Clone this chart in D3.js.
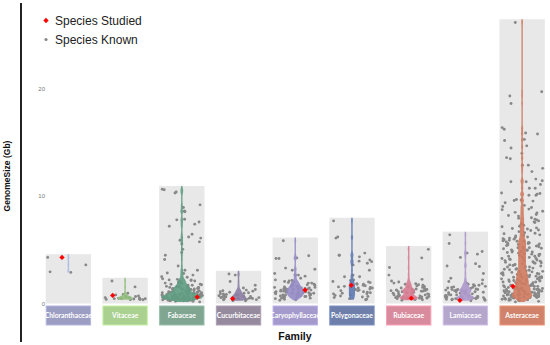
<!DOCTYPE html>
<html>
<head>
<meta charset="utf-8">
<script src="https://cdn.jsdelivr.net/npm/d3@7"></script>
<style>
body { margin: 0; background: #fff; }
text { font-family: "Liberation Sans", Arial, sans-serif; }
</style>
</head>
<body>
<div id="chart"></div>
<script>
// families along the x axis
var families = ["Chloranthaceae", "Vitaceae", "Fabaceae", "Cucurbitaceae", "Caryophyllaceae",
    "Polygonaceae", "Rubiaceae", "Lamiaceae", "Asteraceae"];

// genome size (Gb) of the species studied, one per family
var studied = [4.3, 0.75, 0.6, 0.45, 1.25, 1.7, 0.5, 0.3, 1.6];

// genome sizes (Gb) of known species, per family
var chloranthaceae = [4.3, 3.6, 2.95, 2.9];
var vitaceae = [2.1, 1.55, 0.95, 0.85, 0.8, 0.7, 0.65, 0.62, 0.6, 0.58, 0.55, 0.55, 0.52, 0.5, 0.5,
    0.48, 0.46, 0.45, 0.44, 0.42, 0.4, 0.4, 0.38, 0.36, 0.35];
var fabaceae = [10.65, 10.6, 10.4, 10.3, 9.2, 8.95, 8.6, 8.6, 8.55, 7.85, 7.8, 7.6, 7.4, 7.2, 6.45,
    6.2, 6.1, 5.9, 5.75, 5.55, 5.05, 4.75, 4.5, 4.1, 3.5, 3.1, 3.1, 2.85, 2.8, 2.65, 2.5, 2.45,
    2.3, 2.25, 2.2, 2.2, 2.15, 2.1, 2.05, 2.0, 2.0, 1.95, 1.9, 1.9, 1.85, 1.8, 1.8, 1.75, 1.7, 1.7,
    1.65, 1.6, 1.6, 1.6, 1.55, 1.55, 1.5, 1.5, 1.5, 1.45, 1.45, 1.4, 1.4, 1.4, 1.35, 1.35, 1.3, 1.3,
    1.3, 1.25, 1.25, 1.2, 1.2, 1.2, 1.15, 1.15, 1.1, 1.1, 1.1, 1.05, 1.05, 1.0, 1.0, 1.0, 1.0, 0.95,
    0.95, 0.95, 0.9, 0.9, 0.9, 0.9, 0.85, 0.85, 0.85, 0.85, 0.8, 0.8, 0.8, 0.8, 0.8, 0.75, 0.75,
    0.75, 0.75, 0.7, 0.7, 0.7, 0.7, 0.7, 0.65, 0.65, 0.65, 0.65, 0.65, 0.6, 0.6, 0.6, 0.6, 0.6, 0.6,
    0.55, 0.55, 0.55, 0.55, 0.55, 0.5, 0.5, 0.5, 0.5, 0.5, 0.5, 0.45, 0.45, 0.45, 0.45, 0.45, 0.4,
    0.4, 0.4, 0.4, 0.4, 0.35, 0.35, 0.35, 0.35, 0.3, 0.3, 0.3, 0.3, 0.25, 0.25, 0.25, 0.2, 0.2, 0.15];
var cucurbitaceae = [2.75, 2.65, 2.05, 1.7, 1.45, 1.3, 1.25, 1.2, 1.15, 1.1, 1.05, 1.0, 0.95, 0.9,
    0.9, 0.85, 0.8, 0.8, 0.75, 0.72, 0.7, 0.68, 0.65, 0.62, 0.6, 0.58, 0.55, 0.55, 0.52, 0.5, 0.48,
    0.46, 0.45, 0.42, 0.4, 0.38, 0.36, 0.35, 0.32, 0.3, 0.28, 0.25];
var caryophyllaceae = [5.85, 4.45, 4.25, 4.2, 4.2, 3.3, 3.2, 3.1, 2.8, 2.65, 2.65, 2.55, 2.35, 2.2,
    2.15, 2.1, 2.05, 2.0, 1.95, 1.9, 1.9, 1.85, 1.8, 1.8, 1.75, 1.7, 1.7, 1.65, 1.6, 1.6, 1.55, 1.55,
    1.5, 1.5, 1.45, 1.45, 1.4, 1.4, 1.4, 1.35, 1.35, 1.3, 1.3, 1.3, 1.25, 1.25, 1.2, 1.2, 1.2, 1.15,
    1.15, 1.1, 1.1, 1.1, 1.05, 1.05, 1.0, 1.0, 1.0, 0.95, 0.95, 0.9, 0.9, 0.9, 0.85, 0.85, 0.8, 0.8,
    0.8, 0.75, 0.75, 0.7, 0.7, 0.65, 0.65, 0.6, 0.6, 0.55, 0.55, 0.5, 0.5, 0.45, 0.4, 0.35, 0.3];
var polygonaceae = [7.7, 6.2, 6.1, 4.7, 4.5, 4.5, 4.35, 4.05, 3.95, 3.9, 3.75, 3.6, 3.1, 2.65, 2.5,
    2.5, 2.2, 2.15, 2.05, 2.0, 1.95, 1.85, 1.8, 1.8, 1.7, 1.65, 1.6, 1.55, 1.5, 1.45, 1.45, 1.35,
    1.3, 1.25, 1.2, 1.2, 1.1, 1.05, 1.0, 0.95, 0.9, 0.9, 0.8, 0.75, 0.7, 0.65, 0.6, 0.55, 0.45, 0.4,
    0.35];
var rubiaceae = [5.05, 4.25, 3.35, 2.65, 2.25, 2.1, 2.0, 1.9, 1.85, 1.8, 1.75, 1.7, 1.65, 1.6, 1.55,
    1.5, 1.45, 1.4, 1.35, 1.3, 1.3, 1.3, 1.25, 1.25, 1.2, 1.2, 1.2, 1.15, 1.15, 1.1, 1.1, 1.05, 1.0,
    1.0, 0.95, 0.9, 0.9, 0.85, 0.8, 0.8, 0.75, 0.7, 0.7, 0.65, 0.65, 0.6, 0.6, 0.6, 0.55, 0.55,
    0.55, 0.5, 0.5, 0.5, 0.5, 0.45, 0.45, 0.45, 0.45, 0.4, 0.4, 0.4, 0.35, 0.3];
var lamiaceae = [6.4, 5.6, 4.85, 4.7, 4.6, 4.3, 3.7, 3.5, 3.45, 2.8, 2.35, 2.2, 2.05, 1.9, 1.85,
    1.8, 1.75, 1.7, 1.65, 1.6, 1.55, 1.5, 1.5, 1.45, 1.4, 1.35, 1.3, 1.3, 1.3, 1.25, 1.25, 1.2, 1.2,
    1.2, 1.15, 1.1, 1.1, 1.05, 1.0, 1.0, 0.95, 0.9, 0.9, 0.85, 0.8, 0.8, 0.75, 0.7, 0.7, 0.65, 0.65,
    0.6, 0.6, 0.6, 0.55, 0.55, 0.55, 0.5, 0.5, 0.5, 0.5, 0.45, 0.45, 0.45, 0.4, 0.4, 0.4, 0.35,
    0.35, 0.3, 0.25];
var asteraceae = [26.2, 19.75, 19.35, 18.65, 16.4, 16.25, 15.9, 15.8, 15.3, 15.2, 14.7, 14.5, 14.0,
    13.6, 13.5, 12.9, 12.9, 12.6, 12.3, 11.6, 11.45, 11.35, 11.35, 11.1, 10.75, 10.75, 10.3, 10.25,
    10.2, 10.1, 10.1, 9.7, 9.65, 9.6, 9.55, 9.4,
    9.15, 9.05, 8.95, 8.8, 8.75, 8.6, 8.5, 8.45, 8.3, 8.2, 8.15, 8.0, 7.95, 7.85, 7.8, 7.7, 7.6,
    7.55, 7.45, 7.4, 7.3, 7.2, 7.15, 7.05, 7.0,
    6.95, 6.85, 6.8, 6.7, 6.6, 6.55, 6.5, 6.4, 6.35, 6.3, 6.2, 6.15, 6.1, 6.05, 6.0, 5.95, 5.9,
    5.85, 5.8, 5.8, 5.75, 5.7, 5.65, 5.6, 5.6, 5.55, 5.5, 5.45, 5.4, 5.4, 5.35, 5.3, 5.25, 5.2, 5.2,
    5.15, 5.1, 5.05, 5.0, 5.0, 4.95, 4.9, 4.85, 4.8, 4.8, 4.75, 4.7, 4.65, 4.6, 4.6, 4.55, 4.5,
    4.45, 4.4, 4.4, 4.35, 4.3, 4.25, 4.2, 4.2, 4.15, 4.1, 4.05, 4.0, 4.0, 3.95, 3.9, 3.85, 3.8, 3.8,
    3.75, 3.7, 3.65, 3.6, 3.6, 3.55, 3.5, 3.45, 3.4, 3.4, 3.35, 3.3, 3.25, 3.2, 3.2, 3.15, 3.1,
    3.05, 3.0, 3.0, 2.95, 2.95, 2.9, 2.85, 2.85, 2.8, 2.8, 2.75, 2.7, 2.7, 2.65, 2.65, 2.6, 2.55,
    2.55, 2.5, 2.5, 2.45, 2.45, 2.4, 2.4, 2.35, 2.3, 2.3, 2.25, 2.25, 2.2, 2.2, 2.15, 2.15, 2.1, 2.1,
    2.05, 2.05, 2.0, 2.0, 1.95, 1.95, 1.9, 1.9, 1.85, 1.85, 1.8, 1.8, 1.75, 1.75, 1.7, 1.7, 1.65,
    1.65, 1.6, 1.6, 1.55, 1.55, 1.5, 1.5, 1.5, 1.45, 1.45, 1.4, 1.4, 1.4, 1.35, 1.35, 1.3, 1.3,
    1.3, 1.25, 1.25, 1.2, 1.2, 1.2, 1.15, 1.15, 1.1, 1.1, 1.1, 1.05, 1.05, 1.0, 1.0, 1.0, 0.95,
    0.95, 0.9, 0.9, 0.9, 0.85, 0.85, 0.85, 0.8, 0.8, 0.8, 0.75, 0.75, 0.75, 0.7, 0.7, 0.7, 0.65,
    0.65, 0.65, 0.6, 0.6, 0.6, 0.55, 0.55, 0.5, 0.5, 0.5, 0.45, 0.45, 0.4, 0.4, 0.35, 0.35, 0.3,
    0.3, 0.25, 0.2, 0.15];

var known = [chloranthaceae, vitaceae, fabaceae, cucurbitaceae, caryophyllaceae,
    polygonaceae, rubiaceae, lamiaceae, asteraceae];

var yTicks = [0, 10, 20];

// colours
var boxColors = ["#9c9dc2", "#aad190", "#80a692", "#968b9e", "#a49acb", "#6d7faa", "#d98b9e", "#b5a6cc", "#d0826a"];
var violinColors = ["#a9bde0", "#93c07f", "#5f9c82", "#8b7ea3", "#968dc8", "#5d78b0", "#d77c92", "#ad98cc", "#cf7b60"];

var W = 550, H = 345;

var svg = d3.select("#chart").append("svg")
    .attr("width", W)
    .attr("height", H);

var x = d3.scaleBand()
    .domain(families)
    .range([45.7, 544.8])
    .paddingInner(0.2)
    .paddingOuter(0);

var y = d3.scaleLinear()
    .domain([0, 20])
    .range([303.5, 89]);

var boxColor = d3.scaleOrdinal(families, boxColors);
var violinColor = d3.scaleOrdinal(families, violinColors);
var bw = x.bandwidth();

// axis line on the far left
svg.append("line")
    .attr("x1", 21).attr("x2", 21)
    .attr("y1", 3).attr("y2", 342)
    .attr("stroke", "#222")
    .attr("stroke-width", 2);

svg.selectAll(".ytick")
    .data(yTicks)
    .enter()
    .append("text")
    .attr("class", "ytick")
    .attr("x", 45)
    .attr("y", function(d) { return y(d) + 2; })
    .attr("text-anchor", "end")
    .style("font-size", "6px")
    .attr("fill", "#777")
    .text(function(d) { return d; });

// grey background panels, as tall as the family's largest genome
svg.selectAll(".panel")
    .data(families)
    .enter()
    .append("rect")
    .attr("class", "panel")
    .attr("x", function(d) { return x(d); })
    .attr("width", bw)
    .attr("y", function(d, i) { return y(d3.max(known[i]) + 0.3); })
    .attr("height", function(d, i) { return y(0) - y(d3.max(known[i]) + 0.3); })
    .attr("fill", "#e8e8e8");

// jitter inside the band: a fixed hash of the index (no randomness)
function jitter(j, i) {
    var s = Math.sin(j * 12.9898 + i * 78.233) * 43758.5453;
    return s - Math.floor(s);
}

families.forEach(function(f, i) {
    svg.append("g")
        .selectAll("circle")
        .data(known[i])
        .enter()
        .append("circle")
        .attr("cx", function(d, j) { return x(f) + 2 + jitter(j, i) * (bw - 4); })
        .attr("cy", function(d) { return y(d); })
        .attr("r", 1.45)
        .attr("fill", "#888");
});

// violins: gaussian kde with a narrow bandwidth, width scaled by count
var h = 0.14;
var dens = known.map(function(v) {
    var lo = d3.min(v), hi = d3.max(v) + 0.3;
    var n = Math.ceil((hi - lo) / 0.02);
    return d3.range(n + 1).map(function(k) {
        var t = lo + (hi - lo) * k / n;
        var s = d3.sum(v, function(xv) { var u = (t - xv) / h; return Math.exp(-0.5 * u * u); });
        return [t, s / (h * Math.sqrt(2 * Math.PI))];
    });
});

var maxCount = d3.max(dens, function(d) { return d3.max(d, function(p) { return p[1]; }); });
// power scale keeps the long tails thin
var half = d3.scalePow().exponent(1.3).domain([0, maxCount]).range([0, bw * 0.44]);

families.forEach(function(f, i) {
    var cx = x(f) + bw / 2;
    var area = d3.area()
        .curve(d3.curveCatmullRom)
        .y(function(d) { return y(d[0]); })
        .x0(function(d) { return cx - half(d[1]) - 0.7; })
        .x1(function(d) { return cx + half(d[1]) + 0.7; });
    svg.append("path")
        .datum(dens[i])
        .attr("d", area)
        .attr("fill", violinColor(f))
        .attr("fill-opacity", 0.9);
});

// species studied
svg.selectAll(".studied")
    .data(studied)
    .enter()
    .append("path")
    .attr("class", "studied")
    .attr("d", d3.symbol(d3.symbolSquare, 14))
    .attr("transform", function(d, i) {
        var px = x(families[i]) + 4 + jitter(i + 101, 3) * (bw - 8);
        return "translate(" + px + "," + y(d) + ") rotate(45)";
    })
    .attr("fill", "#ff0000");

// family label boxes
svg.selectAll(".box")
    .data(families)
    .enter()
    .append("rect")
    .attr("class", "box")
    .attr("x", function(d) { return x(d) + 0.5; })
    .attr("y", 306)
    .attr("width", bw - 1)
    .attr("height", 19)
    .attr("fill", function(d) { return boxColor(d); })
    .attr("stroke", function(d) { return d3.color(boxColor(d)).brighter(0.4); })
    .attr("stroke-width", 1);

svg.selectAll(".boxlabel")
    .data(families)
    .enter()
    .append("text")
    .attr("class", "boxlabel")
    .attr("x", function(d) { return x(d) + bw / 2; })
    .attr("y", 318)
    .attr("text-anchor", "middle")
    .attr("fill", "#fff")
    .style("font-family", "Lato, sans-serif")
    .style("font-weight", "bold")
    .style("font-size", "6.8px")
    .text(function(d) { return d; });

// axis titles
svg.append("text")
    .attr("transform", "translate(10,176) rotate(-90)")
    .attr("text-anchor", "middle")
    .style("font-size", "8.5px")
    .style("font-weight", "bold")
    .attr("fill", "#111")
    .text("GenomeSize (Gb)");

svg.append("text")
    .attr("x", 295)
    .attr("y", 340)
    .attr("text-anchor", "middle")
    .style("font-size", "10.5px")
    .style("font-weight", "bold")
    .attr("fill", "#111")
    .text("Family");

// legend
var legend = svg.append("g");
legend.append("path")
    .attr("d", d3.symbol(d3.symbolSquare, 14))
    .attr("transform", "translate(46,20.5) rotate(45)")
    .attr("fill", "#ff0000");
legend.append("text")
    .attr("x", 55).attr("y", 25)
    .style("font-size", "12px")
    .attr("fill", "#222")
    .text("Species Studied");
legend.append("circle")
    .attr("cx", 46).attr("cy", 39.5)
    .attr("r", 1.6)
    .attr("fill", "#888");
legend.append("text")
    .attr("x", 55).attr("y", 44)
    .style("font-size", "12px")
    .attr("fill", "#222")
    .text("Species Known");
</script>
</body>
</html>
